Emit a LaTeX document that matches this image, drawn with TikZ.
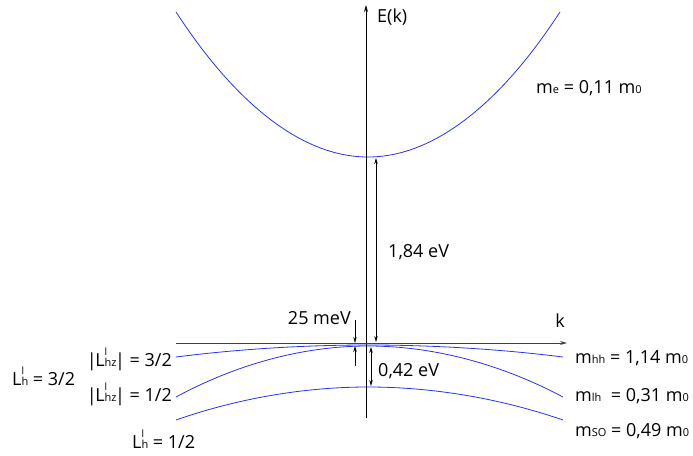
\documentclass[tikz,border=0pt]{standalone}
\usepackage{fontspec}
\setmainfont{Open Sans}
\usetikzlibrary{arrows.meta}
\newcommand{\sbs}[1]{{\fontsize{11}{11}\selectfont #1}}
\newcommand{\Lhl}[1]{L\rlap{\raisebox{11pt}{\fontsize{10}{10}\selectfont l}}\sbs{#1}}
\begin{document}
\begin{tikzpicture}[x=1pt,y=-1pt,
  band/.style={draw={rgb,255:red,40;green,50;blue,235}, line width=0.8pt},
  axisline/.style={draw=black, line width=0.9pt, -{Stealth[length=7pt,width=4pt]}},
  dim/.style={draw=black, line width=0.7pt, {Stealth[length=6pt,width=3.5pt]}-{Stealth[length=6pt,width=3.5pt]}},
  dimone/.style={draw=black, line width=0.7pt, -{Stealth[length=6pt,width=3.5pt]}},
  lab/.style={inner sep=0pt, font=\fontsize{18}{20}\selectfont}]
\useasboundingbox (0,0) rectangle (693,455);
% coordinates
\coordinate (vbot) at (366,418);
\coordinate (vtop) at (366,5);
\coordinate (hl) at (176,343);
\coordinate (hr) at (567,343);
\coordinate (cbmin) at (376,158);
\coordinate (axk) at (376,342);
\coordinate (vbtop) at (371,347);
\coordinate (sotop) at (371,386);
\coordinate (ma) at (355,320);
\coordinate (mb) at (355,343);
\coordinate (mc) at (355,366);
\coordinate (md) at (355,346);
% bands
\draw[band] (176,12) parabola bend (368,157) (560,12);
\draw[band] (176,357) parabola bend (368,345) (563,357);
\draw[band] (176,397) parabola bend (368,346) (563,397);
\draw[band] (176,420) parabola bend (368,387) (563,420);
% axes
\draw[axisline] (vbot) -- (vtop);
\draw[axisline, draw=black!75] (hl) -- (hr);
% dimension arrows
\draw[dim] (cbmin) -- (axk);
\draw[dim] (vbtop) -- (sotop);
\draw[dimone] (ma) -- (mb);
\draw[dimone] (mc) -- (md);
% labels
\node[lab, anchor=west] (Ek) at (377,17) {E(k)};
\node[lab] (k) at (560,321) {k};
\node[lab, anchor=west] (me) at (536,88) {m\sbs{e} = 0,11 m\sbs{0}};
\node[lab, anchor=west] (g1) at (388,252) {1,84 eV};
\node[lab, anchor=east] (g2) at (351,318) {25 meV};
\node[lab, anchor=west] (g3) at (378,371) {0,42 eV};
\node[lab, anchor=west] (mhh) at (575,358) {m\sbs{hh} = 1,14 m\sbs{0}};
\node[lab, anchor=west] (mlh) at (575,396) {m\sbs{lh}\ \ = 0,31 m\sbs{0}};
\node[lab, anchor=west] (mso) at (575,431) {m\sbs{SO} = 0,49 m\sbs{0}};
\node[lab, anchor=east] (l1) at (172,359) {|\kern-1.5pt\Lhl{hz}\kern-1.5pt| = 3/2};
\node[lab, anchor=east] (l2) at (172,394) {|\kern-1.5pt\Lhl{hz}\kern-1.5pt| = 1/2};
\node[lab, anchor=west] (l3) at (12,376) {\Lhl{h} = 3/2};
\node[lab, anchor=west] (l4) at (132,439) {\Lhl{h} = 1/2};
\end{tikzpicture}
\end{document}
